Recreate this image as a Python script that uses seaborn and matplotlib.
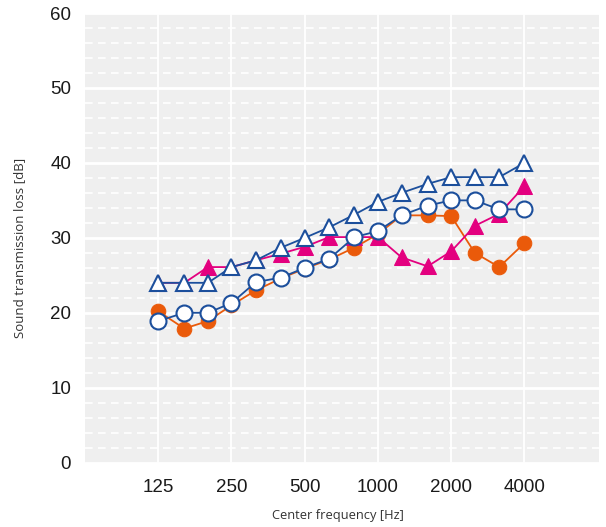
import numpy as np
import pandas as pd
import matplotlib
matplotlib.use("Agg")
import matplotlib.pyplot as plt
import seaborn as sns

# 1/3-octave centre frequencies [Hz]
freqs = [125, 160, 200, 250, 315, 400, 500, 630, 800, 1000,
         1250, 1600, 2000, 2500, 3150, 4000]

# Series values [dB]
orange_circles = [20.2, 17.9, 18.9, 21.0, 23.0, 24.6, 25.9, 27.1, 28.7, 30.5,
                  33.0, 33.0, 32.9, 28.0, 26.1, 29.3]
magenta_triangles = [24.0, 24.0, 26.1, 26.1, 27.0, 27.9, 28.8, 30.1, 30.1, 30.1,
                     27.4, 26.2, 28.2, 31.6, 33.2, 36.9]
blue_triangles = [24.0, 24.0, 24.0, 26.1, 27.0, 28.7, 30.0, 31.4, 33.1, 34.8,
                  36.0, 37.2, 38.1, 38.1, 38.1, 40.0]
blue_circles = [18.9, 20.0, 20.0, 21.3, 24.1, 24.7, 26.0, 27.2, 30.1, 30.9,
                33.0, 34.3, 35.0, 35.0, 33.8, 33.8]

xtick_vals = [125, 250, 500, 1000, 2000, 4000]
xtick_labels = ["125", "250", "500", "1000", "2000", "4000"]
ytick_vals = [0, 10, 20, 30, 40, 50, 60]

BLUE = "#1c4f9c"
ORANGE = "#ea5a0a"
MAGENTA = "#e3007f"

sns.set_theme(style="white")
plt.rcParams["font.family"] = ["Liberation Sans", "DejaVu Sans"]

fig = plt.figure(figsize=(6.06, 5.27), dpi=100)
ax = fig.add_axes([85 / 606, 1 - 462.7 / 527, (599 - 85) / 606, (462.7 - 13) / 527])
ax.set_facecolor("#efefef")

df = pd.DataFrame({"freq": freqs, "orange": orange_circles, "magenta": magenta_triangles,
                   "btri": blue_triangles, "bcirc": blue_circles})

# grid
for v in range(0, 61, 2):
    if v % 10 == 0:
        ax.axhline(v, color="white", lw=2.0, zorder=1)
    else:
        ax.axhline(v, color="white", lw=1.2, ls=(0, (4.6, 3.2)), zorder=1)
for f in xtick_vals:
    ax.axvline(f, color="white", lw=1.3, zorder=1)

sns.lineplot(data=df, x="freq", y="orange", ax=ax, color=ORANGE, lw=1.3,
             marker="o", markersize=10.5, markerfacecolor=ORANGE,
             markeredgecolor=ORANGE, zorder=3)
sns.lineplot(data=df, x="freq", y="magenta", ax=ax, color=MAGENTA, lw=1.3,
             marker="^", markersize=11, markerfacecolor=MAGENTA,
             markeredgecolor=MAGENTA, zorder=3)
sns.lineplot(data=df, x="freq", y="btri", ax=ax, color=BLUE, lw=1.3,
             marker="^", markersize=12, markerfacecolor="white",
             markeredgecolor=BLUE, markeredgewidth=1.5, zorder=4)
sns.lineplot(data=df, x="freq", y="bcirc", ax=ax, color=BLUE, lw=1.3,
             marker="o", markersize=11.5, markerfacecolor="white",
             markeredgecolor=BLUE, markeredgewidth=1.5, zorder=5)

ax.set_xscale("log", base=2)
ax.set_xlim(62.5, 8100)
ax.set_ylim(0, 60)
ax.set_xticks(xtick_vals)
ax.set_xticklabels(xtick_labels)
ax.minorticks_off()
ax.set_yticks(ytick_vals)
ax.tick_params(axis="both", length=0, labelsize=13.5, colors="#1a1a1a")
ax.tick_params(axis="y", pad=10)
ax.tick_params(axis="x", pad=12)
for s in ax.spines.values():
    s.set_visible(False)
ax.grid(False)

ax.set_xlabel("")
ax.set_ylabel("")
fig.text(338 / 606, 1 - 516 / 527, "Center frequency [Hz]", ha="center", va="center",
         fontsize=9.3, family=["Open Sans", "DejaVu Sans"], color="#333333")
fig.text(20 / 606, 1 - 248 / 527, "Sound transmission loss [dB]", ha="center", va="center",
         rotation=90, fontsize=9.5, family=["Open Sans", "DejaVu Sans"], color="#333333")

fig.savefig("out.png", dpi=100)
